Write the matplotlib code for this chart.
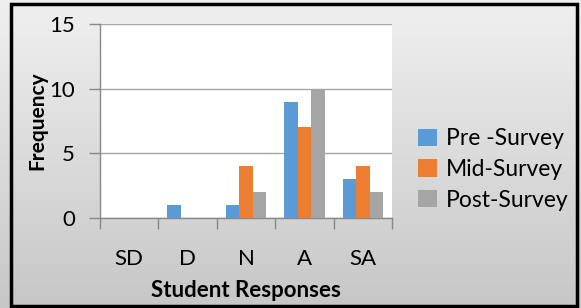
import numpy as np
import matplotlib
matplotlib.use('Agg')
import matplotlib.pyplot as plt
from matplotlib.patches import Rectangle

plt.rcParams['font.family'] = ['Lato', 'DejaVu Sans']

categories = ['SD', 'D', 'N', 'A', 'SA']
pre_survey = [0, 1, 1, 9, 3]
mid_survey = [0, 0, 4, 7, 4]
post_survey = [0, 0, 2, 10, 2]
series_names = ['Pre -Survey', 'Mid-Survey', 'Post-Survey']
colors = ['#5b9bd5', '#ed7d31', '#a5a5a5']

W, H = 581, 308
fig = plt.figure(figsize=(W / 100, H / 100), dpi=100)

# gradient background
bg = fig.add_axes([0, 0, 1, 1], zorder=-10)
grad = np.linspace(0.94, 0.78, 256).reshape(-1, 1)
bg.imshow(np.dstack([grad, grad, grad]), aspect='auto', extent=[0, 1, 0, 1])
bg.set_axis_off()
fig.patches.append(Rectangle((11 / W, 2 / H), 566 / W, 302 / H, transform=fig.transFigure,
                             fill=False, edgecolor='black', linewidth=2.5))

ax = fig.add_axes([100 / W, (H - 218) / H, 292 / W, 194 / H])
ax.set_facecolor('white')

x = np.arange(len(categories))
bw = 0.23
for i, (vals, name) in enumerate(zip([pre_survey, mid_survey, post_survey], series_names)):
    ax.bar(x + (i - 1) * bw, vals, bw, color=colors[i], label=name, zorder=3)

ax.set_xlim(-0.5, len(categories) - 0.5)
ax.set_ylim(0, 15)
ax.set_yticks([0, 5, 10, 15])
ax.grid(axis='y', color='#a6a6a6', linewidth=1, zorder=0)
ax.set_xticks(x)
ax.set_xticklabels(categories)
ax.tick_params(axis='x', length=0, labelsize=16, pad=22)
ax.set_xticks(np.arange(-0.5, len(categories)), minor=True)
ax.tick_params(axis='x', which='minor', length=8, color='#888888', width=1)
ax.tick_params(axis='y', length=8, color='#888888', width=1, labelsize=16, pad=10)
for s in ['top', 'right']:
    ax.spines[s].set_visible(False)
for s in ['left', 'bottom']:
    ax.spines[s].set_color('#888888')
    ax.spines[s].set_linewidth(1)

ax.set_xlabel('Student Responses', fontsize=16, fontweight='bold', labelpad=8)
ax.set_ylabel('Frequency', fontsize=15, fontweight='bold', labelpad=1)

ax.legend(loc='center left', bbox_to_anchor=(1.02, 0.25), frameon=False, fontsize=16.5,
          handlelength=0.8, handleheight=0.8, handletextpad=0.4, labelspacing=0.42)

fig.savefig('out.png', dpi=100)
